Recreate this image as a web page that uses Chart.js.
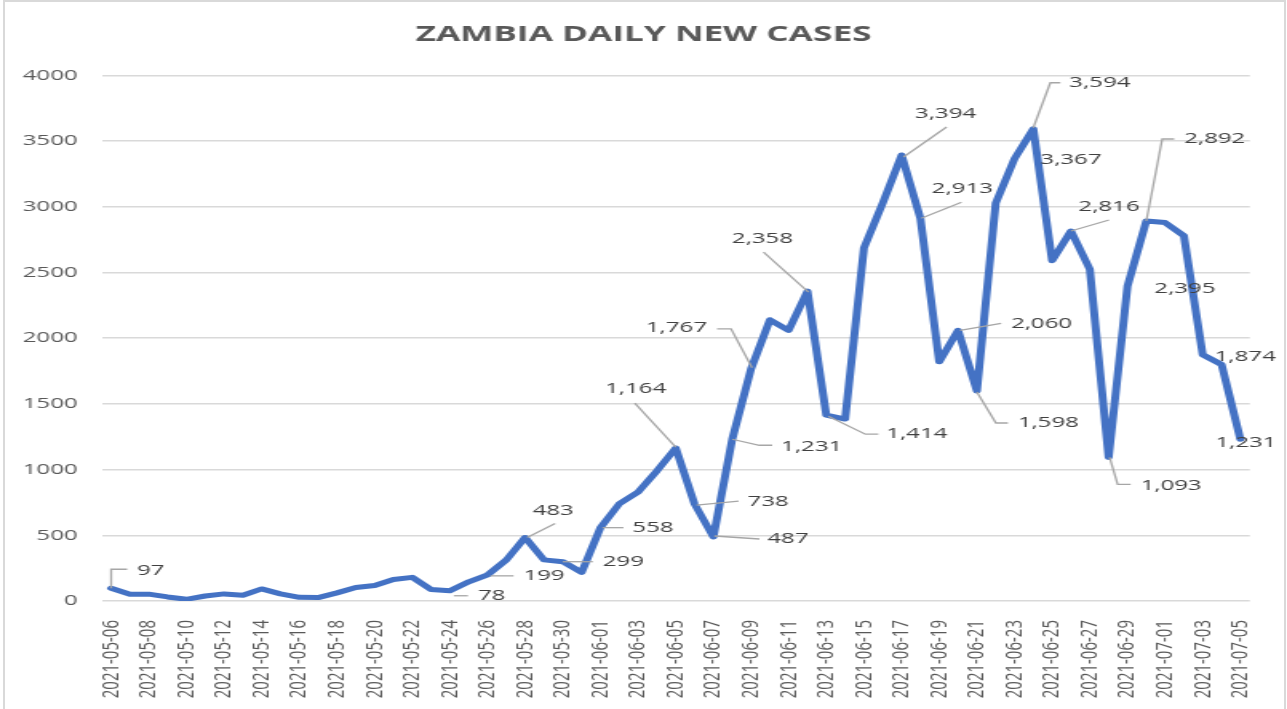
<!DOCTYPE html>
<html>
<head>
<meta charset="utf-8">
<title>Zambia daily new cases</title>
<script src="https://cdn.jsdelivr.net/npm/chart.js@4.4.1/dist/chart.umd.min.js"></script>
<style>
  html, body { margin: 0; padding: 0; background: #fff; overflow: hidden; }
  #frame { position: absolute; left: 3px; top: 0; width: 1283px; height: 740px; border: 2px solid #d9d9d9; box-sizing: border-box; pointer-events: none; }
  #wrap { position: absolute; left: 0; top: 0; width: 805px; height: 709px; transform-origin: 0 0; }
</style>
</head>
<body>
<div id="wrap"><canvas id="cases"></canvas></div>
<div id="frame"></div>
<script>
const dates = [
  '2021-05-06', '2021-05-07', '2021-05-08', '2021-05-09', '2021-05-10', '2021-05-11', '2021-05-12', '2021-05-13',
  '2021-05-14', '2021-05-15', '2021-05-16', '2021-05-17', '2021-05-18', '2021-05-19', '2021-05-20', '2021-05-21',
  '2021-05-22', '2021-05-23', '2021-05-24', '2021-05-25', '2021-05-26', '2021-05-27', '2021-05-28', '2021-05-29',
  '2021-05-30', '2021-05-31', '2021-06-01', '2021-06-02', '2021-06-03', '2021-06-04', '2021-06-05', '2021-06-06',
  '2021-06-07', '2021-06-08', '2021-06-09', '2021-06-10', '2021-06-11', '2021-06-12', '2021-06-13', '2021-06-14',
  '2021-06-15', '2021-06-16', '2021-06-17', '2021-06-18', '2021-06-19', '2021-06-20', '2021-06-21', '2021-06-22',
  '2021-06-23', '2021-06-24', '2021-06-25', '2021-06-26', '2021-06-27', '2021-06-28', '2021-06-29', '2021-06-30',
  '2021-07-01', '2021-07-02', '2021-07-03', '2021-07-04', '2021-07-05'
];

const newCases = [
  97, 52, 52, 31, 13, 38, 54, 44,
  92, 54, 28, 26, 62, 103, 118, 164,
  180, 88, 78, 146, 199, 313, 483, 313,
  299, 218, 558, 740, 830, 990, 1164, 738,
  487, 1231, 1767, 2140, 2060, 2358, 1414, 1385,
  2687, 3030, 3394, 2913, 1820, 2060, 1598, 3028,
  3367, 3594, 2590, 2816, 2525, 1093, 2395, 2892,
  2880, 2780, 1874, 1800, 1231
];

const caseTicks = [0, 500, 1000, 1500, 2000, 2500, 3000, 3500, 4000];

// the reference picture is stretched sideways, so draw narrow and scale up
const S = 1287 / 805;
document.querySelector('#wrap').style.transform = `scaleX(${S})`;

// callout placement, offsets from the point in screen pixels
const callouts = {
  0:  { line: [[0, 0], [0, -19], [16, -19]], text: [26, -18] },
  18: { line: [[4, 5], [18, 5]], text: [28, 5] },
  20: { line: [[3, 1], [26, 1]], text: [36, 1] },
  22: { line: [[2, 0], [30, -14]], text: [28, -27], align: 'center' },
  24: { line: [[0, 0], [30, 0]], text: [40, 0] },
  26: { line: [[2, 0], [23, 0]], text: [32, 0] },
  30: { line: [[0, -1], [-41, -45]], text: [-40, -59], align: 'center' },
  31: { line: [[2, 1], [44, -3]], text: [53, -2] },
  32: { line: [[1, -1], [46, 2]], text: [54, 2] },
  33: { line: [[0, 0], [27, 6], [40, 6]], text: [49, 7] },
  34: { line: [[1, -1], [-20, -40], [-34, -40]], text: [-44, -41], align: 'right' },
  37: { line: [[1, 1], [-44, -39]], text: [-45, -52], align: 'center' },
  38: { line: [[2, 1], [39, 19], [52, 19]], text: [60, 19] },
  42: { line: [[2, 2], [45, -28]], text: [44, -41], align: 'center' },
  43: { line: [[1, 0], [41, -16]], text: [42, -29], align: 'center' },
  45: { line: [[2, 0], [43, -7]], text: [53, -7] },
  46: { line: [[0, 1], [19, 32], [31, 32]], text: [41, 32] },
  48: { text: [26, 1] },
  49: { line: [[0, -1], [17, -46], [27, -46]], text: [36, -46] },
  51: { line: [[0, 0], [38, -11]], text: [38, -24], align: 'center' },
  53: { line: [[1, 0], [9, 27], [22, 27]], text: [32, 28] },
  54: { text: [27, 2] },
  55: { line: [[0, 0], [16, -82], [28, -82]], text: [38, -82] },
  58: { text: [12, 2] },
  60: { text: [-25, 3] }
};

const calloutPlugin = {
  id: 'callouts',
  afterDatasetsDraw(chart) {
    const ctx = chart.ctx;
    const pts = chart.getDatasetMeta(0).data;
    ctx.save();
    ctx.font = '15px "Open Sans"';
    ctx.textBaseline = 'middle';
    for (const [idx, c] of Object.entries(callouts)) {
      const p = pts[idx];
      if (c.line) {
        ctx.beginPath();
        c.line.forEach(([dx, dy], k) => {
          const x = p.x + dx / S, y = p.y + dy;
          if (k) ctx.lineTo(x, y); else ctx.moveTo(x, y);
        });
        ctx.strokeStyle = '#a6a6a6';
        ctx.lineWidth = 1.3;
        ctx.stroke();
      }
      ctx.fillStyle = '#404040';
      ctx.textAlign = c.align || 'left';
      ctx.fillText(newCases[idx].toLocaleString('en-US'), p.x + c.text[0] / S, p.y + c.text[1]);
    }
    ctx.restore();
  }
};

new Chart(document.querySelector('#cases'), {
  type: 'line',
  data: {
    labels: dates,
    datasets: [{
      data: newCases,
      borderColor: '#4472c4',
      borderWidth: 5,
      borderJoinStyle: 'round',
      borderCapStyle: 'round',
      pointRadius: 0,
      tension: 0,
      fill: false
    }]
  },
  options: {
    responsive: true,
    maintainAspectRatio: false,
    animation: false,
    layout: { padding: 0 },
    plugins: {
      legend: { display: false },
      tooltip: { enabled: false },
      title: {
        display: true,
        text: 'ZAMBIA DAILY NEW CASES',
        color: '#595959',
        font: { family: '"Open Sans"', size: 22, weight: 'bold' },
        padding: { top: 22, bottom: 27 }
      }
    },
    scales: {
      x: {
        offset: true,
        grid: { display: false },
        border: { display: false },
        afterFit(scale) { scale.height = 108; },
        ticks: {
          autoSkip: false,
          maxRotation: 90,
          minRotation: 90,
          padding: 11,
          color: '#595959',
          font: { family: '"Open Sans"', size: 15 },
          callback: (v, i) => (i % 2 === 0 ? dates[i] : '')
        }
      },
      y: {
        min: caseTicks[0],
        max: caseTicks[caseTicks.length - 1],
        afterBuildTicks(scale) { scale.ticks = caseTicks.map(v => ({ value: v })); },
        afterFit(scale) { scale.width = 63.6; },
        border: { display: false },
        grid: { color: '#d9d9d9', lineWidth: 1.5, drawTicks: false },
        ticks: {
          padding: 15,
          color: '#595959',
          font: { family: '"Open Sans"', size: 15 },
          callback: v => String(v)
        }
      },
      // empty right margin so the title centres on the whole chart
      gap: {
        position: 'right',
        border: { display: false },
        grid: { display: false },
        ticks: { display: false },
        afterFit(scale) { scale.width = 21; }
      }
    }
  },
  plugins: [calloutPlugin]
});
</script>
</body>
</html>
